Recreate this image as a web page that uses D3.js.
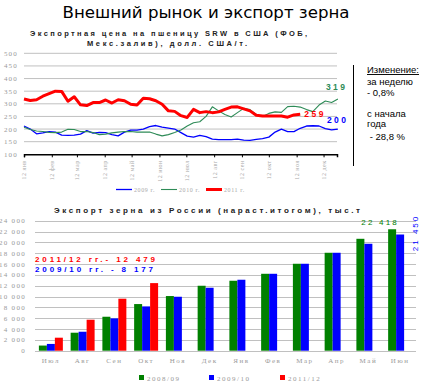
<!DOCTYPE html>
<html><head><meta charset="utf-8">
<script src="https://cdn.jsdelivr.net/npm/d3@7"></script>
<style>body{margin:0;background:#fff;overflow:hidden;} svg{display:block;}</style>
</head><body>
<script>
// ---- data: top chart (weekly SRW export price, USD/t) ----
const priceMonths = ["янв","фев","мар","апр","май","июн","июл","авг","сен","окт","ноя","дек"];
const priceTicks = [100,150,200,250,300,350,400,450,500];
const price2009 = [212,200,181,185,190,188,176,175,176,180,194,184,187,186,178,173,188,196,196,200,
                   210,214,208,204,200,186,172,168,175,170,160,158,158,158,160,156,155,159,162,168,
                   188,200,190,190,203,212,213,212,202,197,200];
const price2010 = [207,198,192,190,187,186,188,199,198,190,190,186,178,180,185,188,190,190,188,188,
                   188,180,173,178,186,196,212,225,229,250,288,272,258,248,265,282,277,258,250,262,
                   268,266,289,290,287,277,269,295,311,305,319];
const price2011 = [319,313,316,330,340,350,349,310,328,296,293,305,305,315,303,316,312,298,295,322,
                   320,312,298,272,270,253,246,278,265,269,265,268,278,287,288,280,272,255,252,252,
                   252,252,247,256,259];
const priceSeries = ["2009 г.","2010 г.","2011 г."];

// ---- data: bottom chart (Russian grain export, cumulative, thousand t) ----
const exportMonths = ["Июл","Авг","Сен","Окт","Ноя","Дек","Янв","Фев","Мар","Апр","Май","Июн"];
const exportSeries = ["2008/09","2009/10","2011/12"];
const export0809 = [950,3320,6270,8610,10090,11990,12915,14200,16050,18080,20660,22418];
const export0910 = [1250,3500,5970,8177,9960,11620,13100,14200,16050,18080,19740,21450];
const export1112 = [2400,5720,9600,12479];
const exportTicks = [0,2000,4000,6000,8000,10000,12000,14000,16000,18000,20000,22000,24000];

const W = 423, H = 383;
const svg = d3.select("body").append("svg").attr("width", W).attr("height", H);
const grayFont = "Liberation Serif, Times New Roman, serif";
const sans = "Liberation Sans, Arial, sans-serif";

// titles
svg.append("text").attr("x", 206).attr("y", 18).attr("text-anchor","middle")
  .attr("font-family","DejaVu Sans, Verdana, sans-serif").attr("font-size",16)
  .attr("textLength",287).attr("lengthAdjust","spacingAndGlyphs")
  .text("Внешний рынок и экспорт зерна");
svg.append("text").attr("x", 168.5).attr("y", 36).attr("text-anchor","middle")
  .attr("font-family",sans).attr("font-size",7.5).attr("font-weight","bold").attr("fill","#222")
  .attr("textLength",277).attr("lengthAdjust","spacing")
  .text("Экспортная цена на пшеницу SRW  в США (ФОБ,");
svg.append("text").attr("x", 167).attr("y", 46).attr("text-anchor","middle")
  .attr("font-family",sans).attr("font-size",7.5).attr("font-weight","bold").attr("fill","#222")
  .attr("textLength",160).attr("lengthAdjust","spacing")
  .text("Мекс.залив), долл. США/т.");

// ---- top chart ----
const start = new Date(2011,0,12);
const wk = i => d3.timeDay.offset(start, 7*i);
const x = d3.scaleTime().domain([start, new Date(2011,11,27)]).range([24, 337]);
const y = d3.scaleLinear().domain([100,500]).range([154.3, 53.3]);

const gTop = svg.append("g");
gTop.selectAll("line.grid").data(priceTicks.filter(v=>v>100)).join("line")
  .attr("x1",24).attr("x2",337).attr("y1",d=>y(d)).attr("y2",d=>y(d))
  .attr("stroke","#c0c0c0").attr("stroke-width",1);
gTop.selectAll("text.yl").data(priceTicks).join("text")
  .attr("x",18).attr("y",d=>y(d)+2.5).attr("text-anchor","end")
  .attr("font-family",grayFont).attr("font-size",7).attr("fill","#999")
  .attr("letter-spacing",1.2).text(d=>String(d));

const tickDates = priceMonths.map((m,i)=>new Date(2011,i,12));
const xAxis = d3.axisBottom(x).tickValues(tickDates).tickSize(3).tickFormat(d=>"12 "+priceMonths[d.getMonth()]);
const ax = gTop.append("g").attr("transform",`translate(0,${y(100)})`).call(xAxis);
ax.select(".domain").attr("stroke","#000").attr("stroke-width",1.5);
ax.selectAll(".tick line").attr("stroke","#000");
ax.selectAll(".tick text").attr("font-family",grayFont).attr("font-size",6).attr("fill","#aaa")
  .attr("text-anchor","end").attr("transform","rotate(-90)").attr("x",-6).attr("y",0).attr("dy","0.32em")
  .attr("letter-spacing",0.5);

const line = d3.line().x((d,i)=>x(wk(i))).y(d=>y(d));
const priceData = [price2009, price2010, price2011];
const priceColors = ["#0000ff","#2e8b57","#ff0000"];
const priceWidths = [1.3,1.1,3];
priceData.forEach((s,k)=>{
  gTop.append("path").datum(s).attr("d",line).attr("fill","none")
    .attr("stroke",priceColors[k]).attr("stroke-width",priceWidths[k]).attr("stroke-linejoin","round");
});
// end labels
const endLab = [
  {s: price2010, c: priceColors[1], dx: -12, dy: -9},
  {s: price2011, c: priceColors[2], dx: 4, dy: 3},
  {s: price2009, c: priceColors[0], dx: -11, dy: -6}
];
endLab.forEach(e=>{
  const v = e.s[e.s.length-1];
  svg.append("text").attr("x", x(wk(e.s.length-1))+e.dx).attr("y", y(v)+e.dy)
    .attr("font-family",sans).attr("font-size",8.5).attr("font-weight","bold").attr("fill",e.c)
    .attr("letter-spacing",2.5).text(v);
});

// legend top
const legTop = [{x:116,c:priceColors[0],w:1.3},{x:161,c:priceColors[1],w:1.1},{x:206,c:priceColors[2],w:3}];
legTop.forEach((l,i)=>{
  svg.append("line").attr("x1",l.x).attr("x2",l.x+16).attr("y1",189.5).attr("y2",189.5)
    .attr("stroke",l.c).attr("stroke-width",l.w);
  svg.append("text").attr("x",l.x+18).attr("y",191.5).attr("font-family",grayFont)
    .attr("font-size",6).attr("fill","#aaa").attr("letter-spacing",0.6).text(priceSeries[i]);
});

// annotation
svg.append("line").attr("x1",353.5).attr("x2",353.5).attr("y1",65).attr("y2",166).attr("stroke","#000").attr("stroke-width",1);
const ann = [["Изменение:",73,true],["за неделю",85,false],["- 0,8%",96,false],["с начала",117,false],["года",127,false],[" - 28,8 %",140,false]];
ann.forEach(a=>{
  svg.append("text").attr("x",367).attr("y",a[1]).attr("font-family",sans).attr("font-size",9.5)
    .attr("text-decoration",a[2]?"underline":null).style("white-space","pre").text(a[0]);
});

// ---- bottom chart ----
svg.append("text").attr("x", 207).attr("y", 213).attr("text-anchor","middle")
  .attr("font-family",sans).attr("font-size",8).attr("font-weight","bold").attr("fill","#222")
  .attr("textLength",306).attr("lengthAdjust","spacing")
  .text("Экспорт зерна из России (нараст.итогом), тыс.т");

const xb = d3.scaleBand().domain(exportMonths).range([35,416]).paddingInner(0.245).paddingOuter(0.1225);
const xs = d3.scaleBand().domain(exportSeries).range([0, xb.bandwidth()]);
const yb = d3.scaleLinear().domain([0,24000]).range([350.7, 220.7]);
const gB = svg.append("g");
gB.selectAll("line").data(exportTicks).join("line")
  .attr("x1",35).attr("x2",416).attr("y1",d=>Math.round(yb(d))+0.5).attr("y2",d=>Math.round(yb(d))+0.5)
  .attr("stroke","#c0c0c0");
const fmt = d => d===0 ? "0" : d3.format(",")(d).replace(/,/g," ");
gB.selectAll("text.yl").data(exportTicks).join("text")
  .attr("x",26).attr("y",d=>yb(d)+2.5).attr("text-anchor","end")
  .attr("font-family",grayFont).attr("font-size",7).attr("fill","#999").attr("letter-spacing",1.3)
  .text(fmt);

const exportData = [export0809, export0910, export1112];
const exportColors = ["#008000","#0000ff","#ff0000"];
exportData.forEach((s,k)=>{
  gB.selectAll(null).data(s).join("rect")
    .attr("x",(d,i)=>xb(exportMonths[i])+xs(exportSeries[k]))
    .attr("y",d=>yb(d)).attr("width",xs.bandwidth()).attr("height",d=>yb(0)-yb(d))
    .attr("fill",exportColors[k]);
});
gB.selectAll("text.xl").data(exportMonths).join("text")
  .attr("x",d=>xb(d)+xb.bandwidth()/2).attr("y",363).attr("text-anchor","middle")
  .attr("font-family",grayFont).attr("font-size",7).attr("fill","#999").attr("letter-spacing",1.5).text(d=>d);

// annotations bottom
svg.append("text").attr("x",35).attr("y",262).attr("font-family",sans).attr("font-size",8).attr("font-weight","bold")
  .attr("fill","#ff0000").attr("textLength",120).attr("lengthAdjust","spacing")
  .text("2011/12 гг.- " + fmt(export1112[3]));
svg.append("text").attr("x",35).attr("y",272).attr("font-family",sans).attr("font-size",8).attr("font-weight","bold")
  .attr("fill","#0000ff").attr("textLength",118).attr("lengthAdjust","spacing")
  .text("2009/10 гг. - " + fmt(export0910[3]));
svg.append("text").attr("x",xb("Июн")+xs("2008/09")-8).attr("y",yb(export0809[11])-4).attr("text-anchor","middle")
  .attr("font-family",sans).attr("font-size",8).attr("fill","#008000").attr("letter-spacing",2.2)
  .text(fmt(export0809[11]));
svg.append("text").attr("transform",`translate(${xb("Июн")+xb.bandwidth()+6},${233}) rotate(-90)`)
  .attr("text-anchor","middle").attr("font-family",sans).attr("font-size",8).attr("fill","#0000ff")
  .attr("letter-spacing",2).text(fmt(export0910[11]));

// legend bottom
const legB = [139,209,280];
legB.forEach((lx,i)=>{
  svg.append("rect").attr("x",lx).attr("y",375).attr("width",5).attr("height",5).attr("fill",exportColors[i]);
  svg.append("text").attr("x",lx+8).attr("y",380.5).attr("font-family",grayFont).attr("font-size",7)
    .attr("fill","#999").attr("letter-spacing",1.5).text(exportSeries[i]);
});
</script>
</body></html>
